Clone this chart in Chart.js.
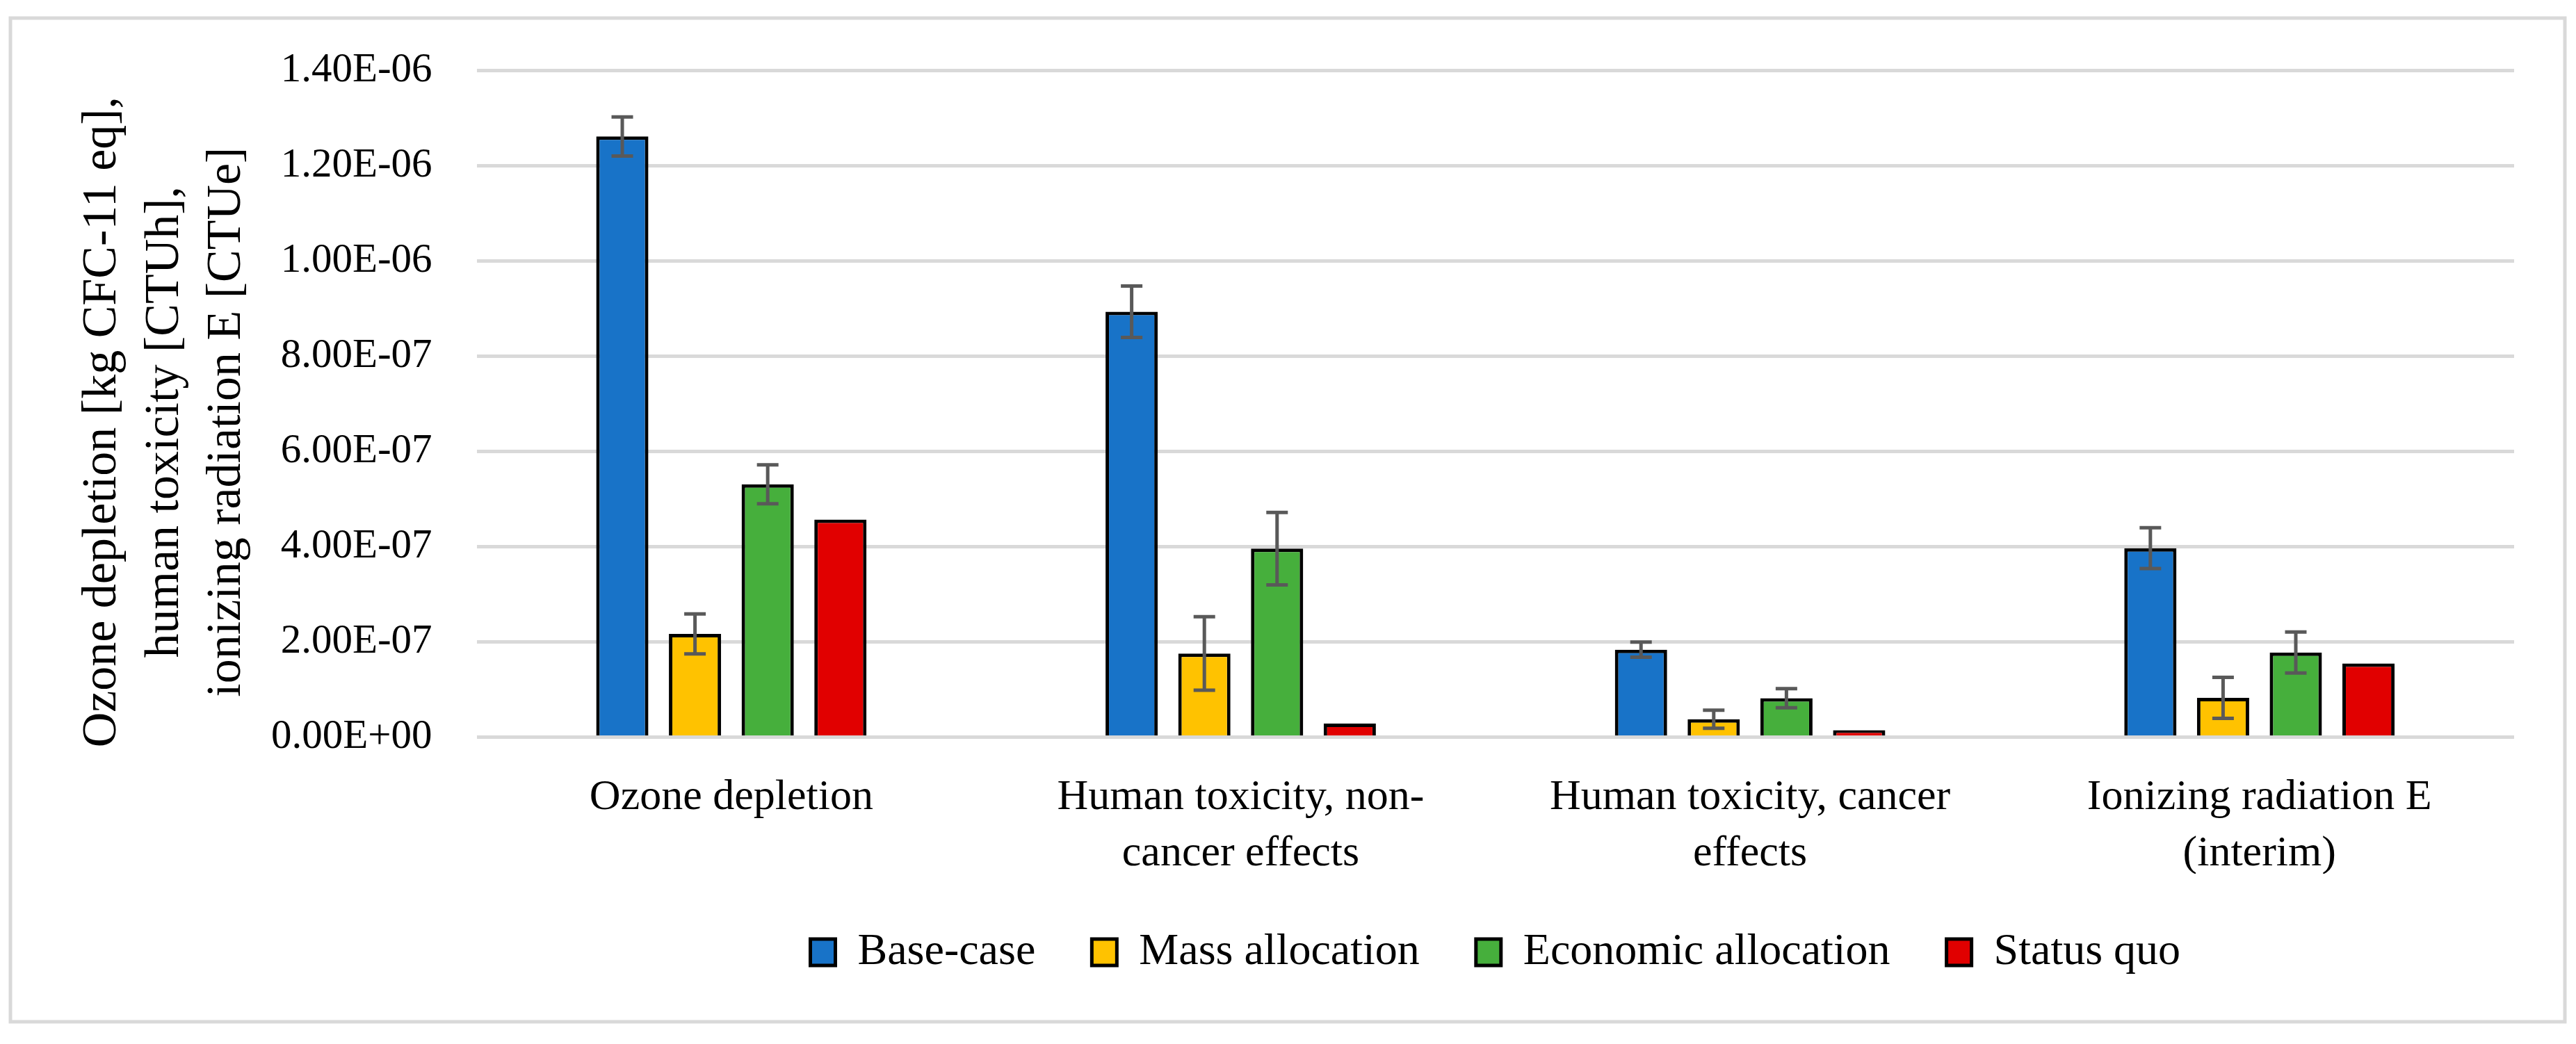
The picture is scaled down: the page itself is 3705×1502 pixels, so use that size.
<!DOCTYPE html>
<html>
<head>
<meta charset="utf-8">
<script src="https://cdn.jsdelivr.net/npm/chart.js@4.4.1/dist/chart.umd.min.js"></script>
<style>
  body { margin: 0; background: #fff; }
  canvas { display: block; }
</style>
</head>
<body>
<canvas id="chart" width="3705" height="1502"></canvas>
<script>
const categories = [
  ['Ozone depletion'],
  ['Human toxicity, non-', 'cancer effects'],
  ['Human toxicity, cancer', 'effects'],
  ['Ionizing radiation E', '(interim)']
];
const seriesNames = ['Base-case', 'Mass allocation', 'Economic allocation', 'Status quo'];
const seriesColors = ['#1873c8', '#ffc200', '#46af3c', '#e10000'];

const baseCase = [1.261e-6, 8.93e-7, 1.84e-7, 3.97e-7];
const massAlloc = [2.17e-7, 1.76e-7, 3.8e-8, 8.3e-8];
const econAlloc = [5.31e-7, 3.96e-7, 8.2e-8, 1.78e-7];
const statusQuo = [4.57e-7, 2.9e-8, 1.5e-8, 1.55e-7];

// half-width of the error bars (status quo has none)
const baseCaseErr = [4.1e-8, 5.4e-8, 1.6e-8, 4.3e-8];
const massAllocErr = [4.2e-8, 7.7e-8, 1.9e-8, 4.3e-8];
const econAllocErr = [4.1e-8, 7.6e-8, 2.0e-8, 4.3e-8];

const yTickLabels = ['0.00E+00', '2.00E-07', '4.00E-07', '6.00E-07', '8.00E-07', '1.00E-06', '1.20E-06', '1.40E-06'];
const yTitle = ['Ozone depletion [kg CFC-11 eq],', 'human toxicity [CTUh],', 'ionizing radiation E [CTUe]'];

const values = [baseCase, massAlloc, econAlloc, statusQuo];
const errors = [baseCaseErr, massAllocErr, econAllocErr, null];

Chart.defaults.font.family = "'Liberation Serif', serif";
Chart.defaults.color = '#000';

// grey frame round the whole figure
const framePlugin = {
  id: 'frame',
  beforeDraw(chart) {
    const ctx = chart.ctx;
    ctx.save();
    ctx.fillStyle = '#fff';
    ctx.fillRect(0, 0, chart.width, chart.height);
    ctx.strokeStyle = '#d9d9d9';
    ctx.lineWidth = 5;
    ctx.strokeRect(15, 26, chart.width - 31, chart.height - 58);
    ctx.restore();
  }
};

const errorBarPlugin = {
  id: 'errorBars',
  afterDatasetsDraw(chart) {
    const ctx = chart.ctx;
    const yScale = chart.scales.y;
    ctx.save();
    ctx.strokeStyle = '#595959';
    ctx.lineWidth = 5;
    chart.data.datasets.forEach((ds, di) => {
      if (!ds.errors) return;
      const meta = chart.getDatasetMeta(di);
      meta.data.forEach((bar, i) => {
        const v = ds.data[i], e = ds.errors[i];
        const yTop = yScale.getPixelForValue(v + e);
        const yBot = yScale.getPixelForValue(v - e);
        const x = bar.x, cap = 15.5;
        ctx.beginPath();
        ctx.moveTo(x, yTop); ctx.lineTo(x, yBot);
        ctx.moveTo(x - cap, yTop); ctx.lineTo(x + cap, yTop);
        ctx.moveTo(x - cap, yBot); ctx.lineTo(x + cap, yBot);
        ctx.stroke();
      });
    });
    ctx.restore();
  }
};

new Chart(document.getElementById('chart'), {
  type: 'bar',
  data: {
    labels: categories,
    datasets: seriesNames.map((name, i) => ({
      label: name,
      data: values[i],
      errors: errors[i],
      backgroundColor: seriesColors[i],
      borderColor: '#000',
      borderWidth: 5,
      categoryPercentage: 0.571,
      barPercentage: 0.718
    }))
  },
  options: {
    responsive: false,
    devicePixelRatio: 1,
    animation: false,
    layout: { padding: { left: 60, right: 89, top: 101, bottom: 90 } },
    plugins: {
      legend: {
        position: 'bottom',
        fullSize: false,
        labels: {
          boxWidth: 36,
          boxHeight: 38,
          padding: 81,
          font: { size: 64 },
          color: '#000'
        }
      },
      tooltip: { enabled: false }
    },
    scales: {
      x: {
        grid: { display: false, drawTicks: false },
        border: { display: false },
        ticks: {
          padding: 47,
          font: { size: 62, lineHeight: 1.3 },
          color: '#000'
        },
        // padding is counted twice by the fit, keep only what the labels need
        afterFit(scale) { scale.height -= 59; }
      },
      y: {
        min: 0,
        max: 1.4e-6,
        border: { display: false },
        grid: { color: '#d9d9d9', lineWidth: 5, drawTicks: false },
        ticks: {
          stepSize: 2e-7,
          padding: 64,
          font: { size: 59 },
          color: '#000',
          callback: (value, index) => yTickLabels[index]
        },
        title: {
          display: true,
          text: yTitle.map(t => t + '   '),
          font: { size: 70, lineHeight: 1.282 },
          color: '#000',
          padding: { top: 42.5, bottom: 18.3 }
        },
        afterFit(scale) { scale.width -= 64; }
      }
    }
  },
  plugins: [framePlugin, errorBarPlugin]
});
</script>
</body>
</html>
